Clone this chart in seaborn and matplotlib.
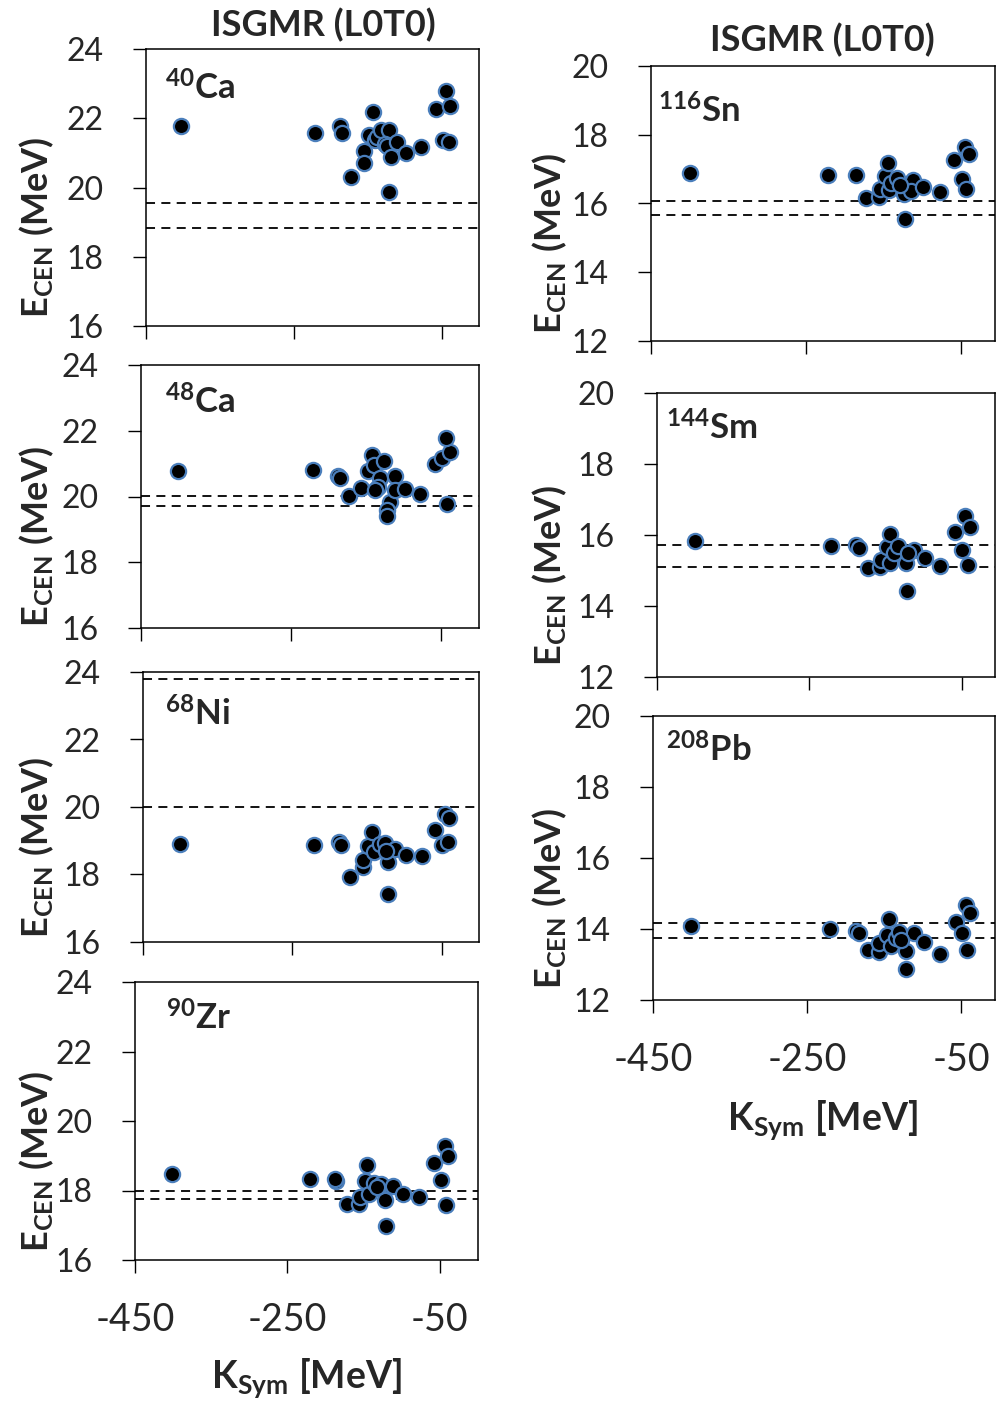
import seaborn as sns
import matplotlib.pyplot as plt

sns.set_style("ticks")
plt.rcParams['font.family'] = ['Lato', 'DejaVu Sans']
plt.rcParams['mathtext.fontset'] = 'custom'
plt.rcParams['mathtext.rm'] = 'Lato'
plt.rcParams['mathtext.it'] = 'Lato:italic'
plt.rcParams['mathtext.bf'] = 'Lato:bold'
plt.rcParams['axes.unicode_minus'] = False

# --- data (K_sym [MeV], E_CEN [MeV]) ---
ca40_k = [-403, -221, -188, -185, -173, -155, -155, -149, -143, -141, -138, -132, -122,
          -127, -125, -119, -121, -111, -99, -78, -58, -49, -41, -44, -39]
ca40_e = [21.77, 21.56, 21.77, 21.56, 20.31, 21.05, 20.71, 21.53, 22.17, 21.37, 21.47, 21.66,
          21.66, 21.27, 21.20, 20.87, 19.86, 21.32, 21.01, 21.18, 22.26, 21.37, 21.30, 22.79, 22.35]
ca40_exp = [19.56, 18.82]

ca48_k = [-401, -221, -188, -185, -173, -157, -148, -143, -140, -127, -132, -134, -138,
          -119, -123, -122, -112, -112, -99, -78, -58, -49, -39, -44, -42]
ca48_e = [20.77, 20.80, 20.62, 20.55, 20.01, 20.26, 20.77, 21.26, 20.97, 21.08, 20.57, 20.29,
          20.20, 19.84, 19.60, 19.41, 20.62, 20.19, 20.24, 20.07, 21.00, 21.18, 21.34, 21.78, 19.77]
ca48_exp = [20.02, 19.71]

ni68_k = [-400, -221, -187, -185, -173, -155, -155, -148, -143, -140, -132, -126, -122,
          -122, -112, -98, -77, -59, -49, -42, -45, -40, -124]
ni68_e = [18.90, 18.87, 18.97, 18.87, 17.93, 18.23, 18.44, 18.84, 19.26, 18.67, 18.90, 18.92,
          18.37, 17.42, 18.75, 18.57, 18.54, 19.31, 18.87, 18.97, 19.78, 19.66, 18.70]
ni68_exp = [23.78, 20.0]

zr90_k = [-401, -221, -186, -187, -172, -156, -155, -148, -145, -143, -136, -127, -122,
          -121, -111, -98, -77, -58, -49, -42, -43, -39, -133]
zr90_e = [18.48, 18.34, 18.27, 18.32, 17.61, 17.61, 17.82, 18.27, 18.72, 17.89, 18.21, 18.19,
          17.73, 16.98, 18.13, 17.89, 17.81, 18.79, 18.29, 17.58, 19.27, 18.98, 18.11]
zr90_exp = [18.0, 17.76]

sn116_k = [-400, -221, -186, -172, -156, -155, -148, -144, -143, -140, -132, -123, -122,
           -112, -115, -99, -77, -59, -49, -43, -45, -39, -128]
sn116_e = [16.90, 16.84, 16.82, 16.16, 16.18, 16.42, 16.79, 17.18, 16.38, 16.60, 16.74, 16.28,
           15.54, 16.67, 16.35, 16.48, 16.32, 17.26, 16.72, 16.42, 17.63, 17.44, 16.55]
sn116_exp = [16.06, 15.67]

sm144_k = [-400, -222, -188, -185, -173, -157, -156, -148, -144, -144, -139, -133, -123,
           -122, -113, -98, -78, -58, -50, -42, -46, -39, -120]
sm144_e = [15.82, 15.68, 15.73, 15.63, 15.08, 15.09, 15.30, 15.65, 16.03, 15.22, 15.49, 15.68,
           15.21, 14.42, 15.58, 15.35, 15.14, 16.08, 15.58, 15.16, 16.53, 16.22, 15.50]
sm144_exp = [15.73, 15.09]

pb208_k = [-401, -220, -187, -183, -171, -156, -156, -146, -144, -141, -135, -131, -121,
           -121, -111, -98, -78, -57, -49, -42, -44, -39, -128]
pb208_e = [14.08, 13.99, 13.94, 13.88, 13.41, 13.36, 13.60, 13.83, 14.28, 13.52, 13.76, 13.91,
           13.39, 12.87, 13.88, 13.64, 13.29, 14.21, 13.88, 13.41, 14.68, 14.46, 13.69]
pb208_exp = [14.16, 13.75]

left_yticks = [16, 18, 20, 22, 24]
right_yticks = [12, 14, 16, 18, 20]
xticks = [-450, -250, -50]

W, H = 996, 1406
fig = plt.figure(figsize=(W / 100, H / 100), dpi=100)


def px_axes(l, r, t, b):
    return fig.add_axes([l / W, 1 - b / H, (r - l) / W, (b - t) / H])


# (symbol, A, k, e, exp lines, yticks, box in px (l, r, t, b), label offset px, bottom?, xmax)
panels = [
    ("Ca", "40", ca40_k, ca40_e, ca40_exp, left_yticks, (146, 479, 49, 326), (19, 50), False, 0),
    ("Ca", "48", ca48_k, ca48_e, ca48_exp, left_yticks, (141, 479, 365, 628), (24, 48), False, 0),
    ("Ni", "68", ni68_k, ni68_e, ni68_exp, left_yticks, (143, 479, 672, 942), (22, 53), False, 0),
    ("Zr", "90", zr90_k, zr90_e, zr90_exp, left_yticks, (135, 478, 982, 1260), (31, 48), True, 0),
    ("Sn", "116", sn116_k, sn116_e, sn116_exp, right_yticks, (651, 995, 66, 341), (7, 57), False, -6),
    ("Sm", "144", sm144_k, sm144_e, sm144_exp, right_yticks, (657, 995, 393, 677), (9, 47), False, -6),
    ("Pb", "208", pb208_k, pb208_e, pb208_exp, right_yticks, (653, 995, 716, 1000), (13, 46), True, -6),
]

for sym, mass, k, e, exp, yt, box, off, bottom, xmax in panels:
    l, r, t, b = box
    ax = px_axes(l, r, t, b)
    ax.set_xlim(-450, xmax)
    ax.set_ylim(yt[0], yt[-1])
    for v in exp:
        ax.axhline(v, color='black', lw=1.3, ls=(0, (5, 3.5)), zorder=1)
    sns.scatterplot(x=k, y=e, ax=ax, color='black', edgecolor='#4a7ebb',
                    linewidth=1.6, s=120, zorder=3)
    ax.set_xticks(xticks)
    ax.set_yticks(yt)
    ax.tick_params(direction='out', length=9.5, width=1.0, color='black',
                   labelsize=23, pad=21)
    ax.tick_params(axis='x', labelsize=27)
    if not bottom:
        ax.set_xticklabels([])
    for sp in ax.spines.values():
        sp.set_visible(True)
        sp.set_color('black')
        sp.set_linewidth(1.1)
    ax.set_xlabel('')
    ax.set_ylabel('')
    ax.text(off[0] / (r - l), 1 - off[1] / (b - t),
            r'$\mathbf{^{%s}%s}$' % (mass, sym), transform=ax.transAxes,
            ha='left', va='baseline', fontsize=25)
    # y label sits below the panel centre, as in the original
    cy = (t + b) / 2 + 40
    lx = 37 if l < 300 else 550
    fig.text(lx / W, 1 - cy / H, r'$\mathbf{E_{CEN}\ (MeV)}$', rotation=90,
             ha='center', va='center', fontsize=26)

fig.text(323 / W, 1 - 25 / H, 'ISGMR (L0T0)', ha='center', va='center',
         fontsize=26, fontweight='bold')
fig.text(822 / W, 1 - 40 / H, 'ISGMR (L0T0)', ha='center', va='center',
         fontsize=26, fontweight='bold')
fig.text(307 / W, 1 - 1378 / H, r'$\mathbf{K_{Sym}\ [MeV]}$', ha='center', va='center',
         fontsize=27)
fig.text(823 / W, 1 - 1120 / H, r'$\mathbf{K_{Sym}\ [MeV]}$', ha='center', va='center',
         fontsize=27)

fig.savefig('out.png', dpi=100, facecolor='white')
